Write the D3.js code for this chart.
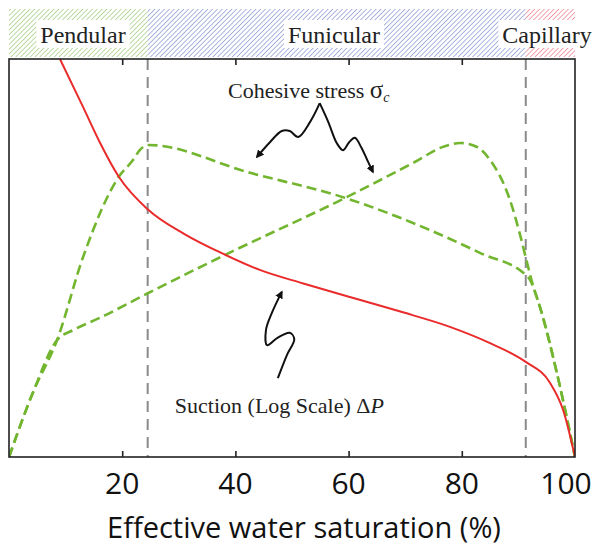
<!DOCTYPE html>
<html>
<head>
<meta charset="utf-8">
<script src="https://cdn.jsdelivr.net/npm/d3@7"></script>
<style>
  body { margin: 0; background: #fff; }
  svg { display: block; }
  .band-label, .note { font-family: "Liberation Serif", "Times New Roman", serif; fill: #222; }
  .tick-label, .axis-title { font-family: "Open Sans", "Noto Sans", sans-serif; fill: #111; }
</style>
</head>
<body>
<svg width="598" height="550"></svg>
<script>
// saturation (%) vs relative magnitude (0-100)
const suction = [
  [9.0, 100], [13.1, 87.9], [16.1, 78.9], [19.4, 70.4], [24.6, 62.1],
  [31, 56], [38.2, 50.8], [44.3, 47.0], [52, 43.6], [60.2, 40.2],
  [69, 36.6], [77.9, 32.7], [85, 28.6], [91.3, 23.9], [95.6, 18.6],
  [97.9, 11.8], [100, 0]
];
// cohesive stress, peak at end of pendular regime
const cohesiveA = [
  [0, 0], [4.2, 16.1], [8.5, 29.4], [13.1, 50.3], [19.4, 70.4],
  [21.9, 74.6], [23.1, 77.1], [24.6, 78.4], [42.6, 71.4], [59.4, 65.1],
  [74.4, 57.0], [83.2, 51.3], [91.7, 45.2], [93.8, 37.7], [96.8, 21.1], [100, 0]
];
// cohesive stress, peak inside funicular regime
const cohesiveB = [
  [0, 0], [4.2, 16.1], [8.5, 29.4], [11.5, 32.0], [16.1, 35.0], [24.6, 41.2],
  [38.2, 50.8], [59.4, 65.1], [71.4, 73.9], [77.0, 78.1], [79.7, 78.9],
  [82.7, 77.9], [85.0, 74.6], [88.5, 64.6], [90.3, 55.8], [91.5, 49.0],
  [92.4, 44.0], [93.8, 37.7], [96.8, 21.1], [100, 0]
];

const xTicks = [20, 40, 60, 80, 100];
const regimeNames = ['Pendular', 'Funicular', 'Capillary'];
const regimeEdges = [0, 24.5, 91.3, 100];
const regimeColors = ['#a9d18c', '#97a2d8', '#f28c98'];

// hand-drawn annotation arrows, in data units
const arrowLeft = [[54.9, 88.9], [53.2, 84.2], [51.1, 80.4], [49.6, 81.9], [48.2, 81.9], [46.1, 79.1], [43.8, 75.4]];
const arrowRight = [[54.9, 88.9], [56.4, 84.2], [57.9, 78.9], [59.0, 77.1], [60.1, 79.1], [61.1, 80.2], [62.2, 77.9], [63.3, 74.6], [64.3, 71.6]];
const arrowSuction = [[47.5, 19.8], [49.1, 25.6], [50.4, 29.6], [49.6, 31.2], [47.5, 30.0], [45.6, 28.1], [45.4, 31.9], [46.5, 36.4], [48.2, 41.5]];

const svg = d3.select('svg');
const pLeft = 9, pRight = 575, pTop = 59, pBottom = 457;

const x = d3.scaleLinear().domain([0, 100]).range([pLeft, pRight]);
const y = d3.scaleLinear().domain([0, 100]).range([pBottom, pTop]);

const defs = svg.append('defs');
regimeColors.forEach((c, i) => {
  const p = defs.append('pattern')
    .attr('id', 'hatch' + i)
    .attr('patternUnits', 'userSpaceOnUse')
    .attr('width', 3.4).attr('height', 3.4)
    .attr('patternTransform', 'rotate(45)');
  p.append('line')
    .attr('x1', 0).attr('y1', 0).attr('x2', 0).attr('y2', 3.4)
    .attr('stroke', c).attr('stroke-width', 1.6);
});
defs.append('clipPath').attr('id', 'plotClip')
  .append('rect')
  .attr('x', pLeft).attr('y', pTop)
  .attr('width', pRight - pLeft).attr('height', pBottom - pTop);
defs.append('marker')
  .attr('id', 'head')
  .attr('viewBox', '0 0 10 10')
  .attr('refX', 8).attr('refY', 5)
  .attr('markerWidth', 4).attr('markerHeight', 4)
  .attr('orient', 'auto')
  .append('path').attr('d', 'M0,0 L10,5 L0,10 Z').attr('fill', '#111');

// regime bands on top
const bandTop = 9, bandBottom = 57;
regimeNames.forEach((name, i) => {
  svg.append('rect')
    .attr('x', x(regimeEdges[i]))
    .attr('y', bandTop)
    .attr('width', x(regimeEdges[i + 1]) - x(regimeEdges[i]))
    .attr('height', bandBottom - bandTop)
    .attr('fill', `url(#hatch${i})`);
});

const labelCenters = [83, 334, 547];
regimeNames.forEach((name, i) => {
  const t = svg.append('text')
    .attr('class', 'band-label')
    .attr('x', labelCenters[i])
    .attr('y', 43)
    .attr('text-anchor', 'middle')
    .attr('font-size', 24)
    .text(name);
  const w = t.node().getComputedTextLength();
  svg.insert('rect', function () { return t.node(); })
    .attr('x', labelCenters[i] - w / 2 - 4)
    .attr('y', 20)
    .attr('width', w + 8)
    .attr('height', 28)
    .attr('fill', '#fff');
});

// regime boundaries
svg.selectAll('.boundary')
  .data(regimeEdges.slice(1, 3))
  .enter()
  .append('line')
  .attr('class', 'boundary')
  .attr('x1', d => x(d)).attr('x2', d => x(d))
  .attr('y1', pTop).attr('y2', pBottom)
  .attr('stroke', '#8a8a8a')
  .attr('stroke-width', 2)
  .attr('stroke-dasharray', '11,7');

const line = d3.line()
  .x(d => x(d[0]))
  .y(d => y(d[1]))
  .curve(d3.curveMonotoneX);

const plot = svg.append('g').attr('clip-path', 'url(#plotClip)');

[cohesiveA, cohesiveB].forEach(s => {
  plot.append('path')
    .attr('d', line(s))
    .attr('fill', 'none')
    .attr('stroke', '#72b52f')
    .attr('stroke-width', 2.6)
    .attr('stroke-dasharray', '10,5');
});

plot.append('path')
  .attr('d', line(suction))
  .attr('fill', 'none')
  .attr('stroke', '#ea2b2b')
  .attr('stroke-width', 2);

// frame with inside ticks
svg.append('rect')
  .attr('x', pLeft).attr('y', pTop)
  .attr('width', pRight - pLeft).attr('height', pBottom - pTop)
  .attr('fill', 'none')
  .attr('stroke', '#222')
  .attr('stroke-width', 1.6);

svg.append('g')
  .attr('transform', `translate(0,${pBottom})`)
  .call(d3.axisBottom(x).tickValues(xTicks.slice(0, 4)).tickSizeInner(-6).tickSizeOuter(0).tickFormat(''))
  .call(g => g.select('.domain').remove())
  .call(g => g.selectAll('line').attr('stroke', '#222').attr('stroke-width', 1.6));

svg.append('g')
  .attr('transform', `translate(0,${pTop})`)
  .call(d3.axisTop(x).tickValues(xTicks.slice(0, 4)).tickSizeInner(-6).tickSizeOuter(0).tickFormat(''))
  .call(g => g.select('.domain').remove())
  .call(g => g.selectAll('line').attr('stroke', '#222').attr('stroke-width', 1.6));

svg.selectAll('.tick-label')
  .data(xTicks)
  .enter()
  .append('text')
  .attr('class', 'tick-label')
  .attr('x', d => x(d) - (d === 100 ? 9 : 0))
  .attr('y', 494)
  .attr('text-anchor', 'middle')
  .attr('font-size', 30)
  .text(d => d);

svg.append('text')
  .attr('class', 'axis-title')
  .attr('x', 304)
  .attr('y', 538)
  .attr('text-anchor', 'middle')
  .attr('font-size', 29)
  .text('Effective water saturation (%)');

// annotations
const arrowLine = d3.line()
  .x(d => x(d[0]))
  .y(d => y(d[1]))
  .curve(d3.curveCatmullRom);

[arrowLeft, arrowRight, arrowSuction].forEach(a => {
  svg.append('path')
    .attr('d', arrowLine(a))
    .attr('fill', 'none')
    .attr('stroke', '#111')
    .attr('stroke-width', 2)
    .attr('marker-end', 'url(#head)');
});

const cohesive = svg.append('text')
  .attr('class', 'note')
  .attr('x', x(38.7))
  .attr('y', y(90.2))
  .attr('font-size', 22);
cohesive.append('tspan').text('Cohesive stress ');
cohesive.append('tspan').attr('font-size', 25).text('σ');
cohesive.append('tspan').attr('font-size', 14).attr('font-style', 'italic').attr('dy', 4).text('c');

const suct = svg.append('text')
  .attr('class', 'note')
  .attr('x', x(29.3))
  .attr('y', y(11.1))
  .attr('font-size', 22);
suct.append('tspan').text('Suction (Log Scale) Δ');
suct.append('tspan').attr('font-style', 'italic').text('P');
</script>
</body>
</html>
